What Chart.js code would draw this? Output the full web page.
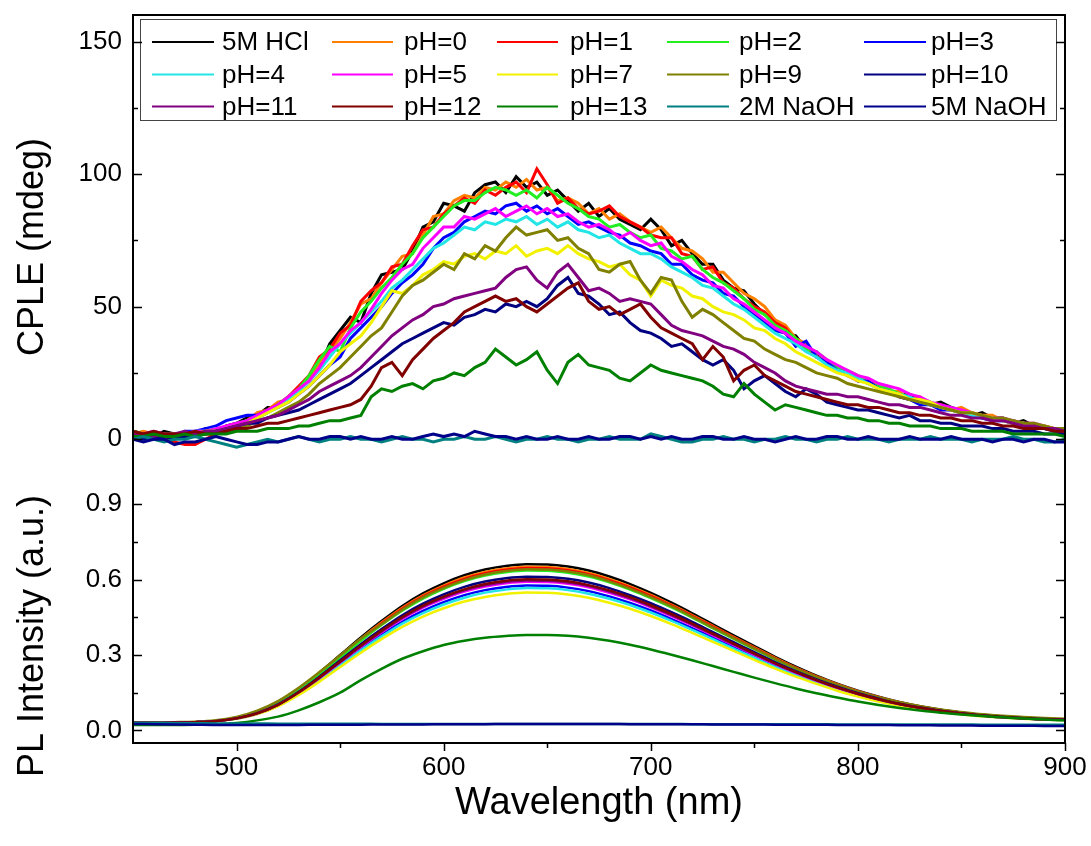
<!DOCTYPE html>
<html>
<head>
<meta charset="utf-8">
<script src="https://cdn.jsdelivr.net/npm/chart.js@4.4.1/dist/chart.umd.min.js"></script>
<style>
  html, body { margin: 0; padding: 0; background: #fff; }
  #wrap { position: relative; width: 1091px; height: 846px; }
  #cple { position: absolute; left: 0; top: 0; }
  #pl { position: absolute; left: 0; top: 479px; }
</style>
</head>
<body>
<div id="wrap">
  <canvas id="cple" width="1091" height="479"></canvas>
  <canvas id="pl" width="1091" height="367"></canvas>
</div>
<script>
// --- series names / colours ---
const seriesNames = ['5M HCl', 'pH=0', 'pH=1', 'pH=2', 'pH=3',
  'pH=4', 'pH=5', 'pH=7', 'pH=9', 'pH=10',
  'pH=11', 'pH=12', 'pH=13', '2M NaOH', '5M NaOH']
const seriesColors = ['#000000', '#ff8000', '#ff0000', '#22ee22', '#0000ff',
  '#22e5e5', '#ff00ff', '#f2f200', '#808000', '#000080',
  '#800080', '#800000', '#008000', '#008080', '#00008b']

// --- tick values ---
const wlTicks = [500, 600, 700, 800, 900]
const wlMinor = [550, 650, 750, 850]
const cpleTicks = [0, 50, 100, 150]
const cpleMinor = [25, 75, 125]
const plTicks = [0, 0.3, 0.6, 0.9]
const plMinor = [0.15, 0.45, 0.75]

// --- CPLE (mdeg), 5 nm steps ---
const cpleWavelengths = [450, 455, 460, 465, 470, 475, 480, 485, 490, 495,
  500, 505, 510, 515, 520, 525, 530, 535, 540, 545,
  550, 555, 560, 565, 570, 575, 580, 585, 590, 595,
  600, 605, 610, 615, 620, 625, 630, 635, 640, 645,
  650, 655, 660, 665, 670, 675, 680, 685, 690, 695,
  700, 705, 710, 715, 720, 725, 730, 735, 740, 745,
  750, 755, 760, 765, 770, 775, 780, 785, 790, 795,
  800, 805, 810, 815, 820, 825, 830, 835, 840, 845,
  850, 855, 860, 865, 870, 875, 880, 885, 890, 895, 900]

const cpleHCl5M = [3, 2, 1, 3, 2, 1, 2, 4, 3, 5,
  6, 8, 9, 12, 12, 16, 19, 22, 27, 36,
  41, 46, 44, 55, 62, 63, 64, 71, 80, 82,
  89, 88, 86, 93, 96, 97, 93, 99, 95, 97,
  92, 94, 90, 86, 89, 84, 87, 83, 81, 79,
  83, 79, 73, 75, 70, 66, 66, 60, 57, 56,
  51, 47, 45, 40, 39, 34, 33, 28, 27, 24,
  23, 21, 20, 18, 17, 17, 15, 13, 14, 12,
  11, 9, 10, 8, 8, 6, 7, 5, 5, 4, 3]
const cplePH0 = [2, 3, 2, 2, 1, 2, 3, 2, 4, 4,
  5, 7, 10, 11, 14, 15, 18, 23, 29, 33,
  38, 44, 51, 53, 59, 64, 69, 70, 77, 84,
  85, 90, 92, 91, 95, 94, 97, 95, 98, 94,
  95, 90, 91, 89, 85, 87, 83, 85, 82, 80,
  78, 80, 76, 72, 71, 68, 63, 63, 59, 55,
  53, 50, 45, 43, 38, 36, 31, 30, 26, 25,
  24, 21, 21, 18, 18, 15, 16, 13, 13, 11,
  12, 10, 9, 9, 7, 7, 6, 5, 5, 4, 3]
const cplePH1 = [3, 2, 1, 0, -1, -2, -2, 0, 2, 3,
  5, 6, 9, 11, 13, 16, 20, 24, 31, 34,
  40, 43, 52, 56, 59, 65, 66, 73, 79, 80,
  85, 88, 91, 89, 94, 92, 95, 97, 93, 102,
  96, 89, 91, 87, 85, 86, 88, 84, 82, 80,
  77, 76, 76, 70, 69, 64, 65, 59, 57, 53,
  50, 48, 44, 42, 37, 35, 31, 29, 27, 24,
  22, 22, 19, 18, 16, 15, 15, 13, 12, 11,
  10, 10, 8, 8, 7, 6, 5, 6, 4, 4, 3]
const cplePH2 = [3, 2, 2, 1, 2, 2, 2, 3, 4, 4,
  6, 7, 8, 10, 13, 16, 19, 24, 30, 35,
  33, 42, 48, 52, 57, 61, 66, 70, 76, 80,
  84, 88, 90, 90, 93, 95, 94, 92, 94, 91,
  95, 92, 89, 87, 84, 83, 80, 81, 78, 76,
  77, 72, 71, 68, 69, 64, 61, 59, 56, 53,
  49, 47, 43, 41, 38, 34, 33, 30, 27, 26,
  24, 21, 20, 19, 17, 16, 14, 14, 12, 12,
  10, 10, 8, 8, 7, 7, 6, 5, 4, 4, 3]
const cplePH3 = [1, 2, 1, 2, 1, 3, 3, 4, 5, 7,
  8, 9, 9, 11, 12, 14, 17, 20, 24, 28,
  31, 38, 42, 46, 50, 55, 59, 62, 66, 72,
  76, 78, 82, 84, 86, 85, 88, 89, 86, 88,
  85, 87, 84, 81, 82, 80, 78, 77, 74, 73,
  71, 70, 66, 66, 62, 60, 59, 55, 54, 50,
  47, 44, 41, 40, 35, 37, 31, 29, 26, 25,
  22, 22, 19, 18, 16, 15, 13, 13, 11, 11,
  10, 9, 8, 7, 7, 6, 5, 5, 4, 3, 3]
const cplePH4 = [0, 1, 2, 1, 2, 2, 3, 3, 4, 4,
  5, 6, 8, 10, 12, 15, 18, 22, 26, 31,
  36, 40, 44, 48, 52, 57, 60, 64, 68, 72,
  74, 77, 80, 79, 82, 81, 83, 82, 84, 81,
  83, 80, 82, 79, 78, 76, 77, 74, 72, 70,
  70, 68, 65, 63, 61, 58, 57, 54, 51, 49,
  46, 43, 40, 38, 36, 33, 31, 28, 26, 25,
  23, 21, 19, 18, 17, 16, 14, 13, 12, 11,
  10, 9, 8, 8, 7, 6, 6, 5, 4, 4, 3]
const cplePH5 = [2, 2, 3, 2, 1, 2, 3, 3, 4, 5,
  6, 7, 9, 11, 13, 16, 19, 22, 27, 33,
  36, 41, 44, 49, 55, 60, 64, 66, 72, 76,
  80, 80, 84, 83, 85, 87, 84, 86, 88, 85,
  87, 84, 85, 82, 80, 81, 79, 76, 78, 75,
  73, 74, 69, 67, 64, 62, 58, 57, 53, 51,
  48, 45, 42, 40, 37, 35, 33, 30, 28, 26,
  24, 23, 21, 20, 19, 17, 16, 14, 13, 12,
  11, 10, 9, 8, 8, 7, 6, 6, 5, 4, 3]
const cplePH7 = [2, 2, 1, 2, 2, 2, 2, 3, 3, 4,
  5, 6, 8, 10, 12, 14, 17, 20, 24, 28,
  33, 36, 39, 44, 50, 56, 55, 58, 62, 64,
  67, 66, 69, 70, 68, 71, 70, 73, 69, 71,
  72, 70, 73, 70, 68, 67, 65, 66, 62, 60,
  54, 60, 58, 57, 54, 53, 50, 48, 47, 45,
  42, 41, 38, 36, 33, 31, 29, 27, 25, 24,
  22, 21, 19, 18, 17, 15, 15, 14, 12, 11,
  10, 10, 9, 8, 7, 6, 6, 5, 5, 4, 3]
const cplePH9 = [2, 2, 2, 1, 2, 2, 2, 3, 3, 3,
  4, 5, 7, 8, 10, 12, 14, 17, 21, 24,
  27, 31, 35, 39, 42, 48, 54, 58, 60, 63,
  66, 64, 70, 68, 73, 71, 76, 80, 77, 78,
  79, 75, 76, 72, 70, 64, 63, 66, 67, 60,
  55, 61, 60, 52, 46, 49, 47, 44, 41, 38,
  37, 34, 32, 30, 29, 27, 25, 24, 23, 21,
  20, 19, 18, 17, 16, 15, 14, 13, 12, 11,
  10, 10, 9, 8, 8, 7, 6, 6, 5, 4, 4]
const cplePH10 = [1, 0, 1, 1, 0, 1, 2, 2, 3, 4,
  5, 6, 6, 8, 9, 10, 11, 13, 15, 17,
  19, 21, 24, 27, 30, 33, 36, 38, 40, 42,
  44, 43, 46, 47, 49, 48, 51, 50, 52, 50,
  53, 58, 61, 55, 54, 51, 47, 48, 44, 41,
  40, 38, 35, 36, 33, 30, 28, 30, 26, 19,
  22, 24, 21, 18, 16, 19, 17, 14, 13, 12,
  11, 11, 10, 9, 8, 9, 7, 7, 6, 6,
  5, 5, 5, 4, 4, 3, 3, 3, 2, 2, 2]
const cplePH11 = [2, 2, 1, 2, 2, 3, 2, 3, 3, 4,
  5, 6, 7, 8, 9, 11, 13, 15, 18, 20,
  22, 24, 27, 31, 35, 39, 42, 45, 47, 50,
  51, 53, 54, 55, 56, 57, 61, 64, 65, 60,
  57, 63, 66, 61, 56, 57, 55, 52, 53, 52,
  51, 47, 43, 41, 40, 39, 37, 35, 34, 32,
  29, 27, 25, 22, 20, 19, 18, 17, 17, 16,
  16, 15, 14, 13, 13, 12, 12, 11, 10, 9,
  9, 8, 8, 7, 7, 6, 5, 5, 4, 4, 3]
const cplePH12 = [3, 2, 3, 2, 2, 2, 3, 2, 2, 3,
  4, 4, 5, 6, 6, 7, 8, 9, 10, 11,
  12, 13, 15, 20, 27, 29, 24, 30, 34, 38,
  41, 44, 48, 50, 52, 54, 52, 53, 50, 48,
  51, 54, 57, 59, 52, 49, 50, 47, 49, 51,
  46, 42, 40, 38, 36, 30, 35, 31, 22, 26,
  28, 24, 22, 20, 18, 17, 16, 15, 14, 13,
  13, 12, 12, 11, 10, 10, 9, 9, 8, 8,
  7, 7, 6, 6, 5, 5, 4, 4, 4, 3, 3]
const cplePH13 = [1, 1, 2, 1, 1, 2, 1, 2, 2, 2,
  3, 3, 3, 4, 4, 4, 5, 5, 6, 7,
  7, 8, 9, 16, 19, 18, 20, 21, 19, 22,
  23, 25, 24, 27, 29, 34, 31, 28, 30, 33,
  26, 21, 29, 32, 28, 27, 26, 23, 22, 25,
  28, 26, 25, 24, 23, 22, 20, 17, 16, 21,
  17, 14, 11, 13, 12, 11, 10, 9, 9, 8,
  8, 7, 7, 6, 6, 5, 5, 5, 4, 4,
  4, 3, 3, 3, 3, 2, 2, 2, 2, 2, 1]
const cpleNaOH2M = [0, 1, 0, -1, 0, 0, 1, 0, -1, -2,
  -3, -2, -1, 0, -1, 0, 1, 0, -1, 0,
  0, 1, 0, 0, -1, 0, 1, 0, 0, -1,
  0, 0, 1, 0, 0, 1, 0, -1, 0, 0,
  1, 0, 0, -1, 0, 0, 1, 0, 0, 0,
  2, 1, 0, -1, -1, 0, 0, 1, 0, 0,
  -1, 0, 0, 1, 0, 0, -1, 0, 0, 1,
  0, 0, 0, -1, 0, 0, 0, 1, 0, 0,
  0, -1, 0, 0, 0, 1, 0, 0, -1, -1, 0]
const cpleNaOH5M = [0, -1, 0, 0, -2, -1, -1, 0, 1, 0,
  -1, -2, -2, -1, -1, 0, 1, 0, 0, 1,
  1, 0, 1, 0, 0, 1, 0, 0, 1, 2,
  1, 2, 1, 3, 2, 1, 1, 0, 1, 0,
  0, 1, 0, 0, 1, 0, 0, 1, 1, 0,
  1, 0, 1, 0, 0, 1, 1, 0, 0, 1,
  0, 0, -1, 0, 1, 0, 0, 1, 1, 0,
  0, 1, 0, 0, 0, 1, 0, 0, 0, 1,
  0, 0, 0, -1, 0, 0, -1, 0, 0, -1, -1]

// --- PL intensity (a.u.), 10 nm steps ---
const plWavelengths = [450, 460, 470, 480, 490, 500, 510, 520, 530, 540,
  550, 560, 570, 580, 590, 600, 610, 620, 630, 640,
  650, 660, 670, 680, 690, 700, 710, 720, 730, 740,
  750, 760, 770, 780, 790, 800, 810, 820, 830, 840,
  850, 860, 870, 880, 890, 900]

const plHCl5M = [.030, .030, .031, .033, .038, .050, .072, .110, .165, .230,
  .300, .370, .435, .495, .545, .585, .617, .640, .654, .661,
  .660, .652, .636, .612, .582, .547, .508, .466, .422, .378,
  .335, .293, .254, .218, .186, .158, .134, .113, .096, .082,
  .071, .062, .055, .050, .046, .043]
const plPH0 = [.030, .030, .031, .033, .038, .050, .071, .109, .163, .227,
  .296, .365, .429, .488, .537, .576, .608, .630, .644, .651,
  .650, .642, .626, .603, .573, .539, .500, .459, .416, .372,
  .330, .289, .250, .215, .184, .156, .132, .112, .095, .081,
  .070, .061, .055, .050, .046, .043]
const plPH1 = [.030, .030, .031, .033, .038, .050, .071, .108, .162, .225,
  .294, .362, .425, .484, .533, .572, .603, .625, .639, .646,
  .645, .637, .621, .598, .569, .535, .497, .456, .413, .370,
  .328, .287, .249, .213, .182, .155, .132, .111, .094, .081,
  .070, .061, .054, .050, .046, .043]
const plPH2 = [.030, .030, .031, .033, .038, .049, .070, .107, .160, .222,
  .289, .356, .419, .476, .524, .563, .594, .616, .629, .636,
  .635, .627, .612, .589, .560, .526, .489, .449, .406, .364,
  .323, .282, .245, .210, .180, .153, .130, .110, .093, .080,
  .069, .061, .054, .049, .045, .042]
const plPH3 = [.030, .030, .031, .033, .037, .047, .066, .099, .147, .203,
  .264, .324, .380, .432, .475, .510, .538, .558, .570, .576,
  .575, .568, .554, .533, .507, .477, .443, .407, .369, .331,
  .294, .257, .224, .193, .165, .141, .120, .102, .087, .075,
  .065, .058, .052, .047, .044, .041]
const plPH4 = [.030, .030, .031, .033, .037, .047, .066, .098, .145, .200,
  .259, .319, .374, .425, .467, .501, .528, .548, .560, .566,
  .565, .558, .544, .524, .499, .469, .436, .400, .363, .325,
  .289, .253, .220, .190, .162, .139, .118, .100, .086, .074,
  .065, .057, .051, .047, .044, .041]
const plPH5 = [.030, .030, .031, .033, .037, .048, .067, .101, .150, .208,
  .270, .332, .390, .443, .488, .523, .552, .572, .585, .591,
  .590, .583, .569, .547, .521, .490, .455, .418, .378, .339,
  .301, .264, .229, .197, .169, .144, .122, .104, .089, .076,
  .066, .058, .052, .048, .044, .042]
const plPH7 = [.030, .030, .031, .032, .037, .046, .065, .096, .141, .194,
  .252, .309, .363, .412, .453, .486, .513, .531, .543, .549,
  .548, .541, .528, .508, .484, .455, .423, .388, .352, .316,
  .281, .246, .214, .185, .158, .135, .115, .098, .084, .073,
  .064, .056, .051, .046, .043, .041]
const plPH9 = [.032, .032, .033, .035, .041, .054, .079, .117, .170, .232,
  .298, .365, .422, .480, .529, .567, .598, .620, .634, .641,
  .640, .632, .617, .593, .564, .530, .493, .452, .409, .367,
  .325, .285, .247, .212, .181, .154, .131, .112, .096, .083,
  .073, .064, .058, .053, .049, .046]
const plPH10 = [.030, .030, .031, .033, .037, .048, .069, .104, .154, .214,
  .279, .343, .403, .458, .504, .541, .571, .592, .605, .611,
  .610, .603, .588, .566, .538, .506, .470, .432, .391, .351,
  .311, .272, .236, .203, .174, .148, .126, .106, .091, .078,
  .068, .059, .053, .048, .045, .042]
const plPH11 = [.030, .030, .031, .033, .037, .048, .068, .102, .151, .209,
  .272, .335, .393, .447, .492, .528, .557, .577, .590, .596,
  .595, .588, .574, .552, .525, .494, .459, .421, .382, .342,
  .304, .266, .231, .199, .170, .145, .123, .104, .089, .077,
  .067, .059, .052, .048, .044, .042]
const plPH12 = [.030, .030, .031, .033, .037, .048, .068, .102, .152, .211,
  .274, .338, .397, .451, .496, .532, .561, .582, .595, .601,
  .600, .593, .578, .557, .530, .498, .463, .425, .385, .345,
  .306, .268, .233, .200, .171, .146, .124, .105, .090, .077,
  .067, .059, .053, .048, .044, .042]
const plPH13 = [.022, .022, .022, .023, .025, .030, .040, .055, .080, .112,
  .150, .200, .245, .285, .315, .340, .357, .369, .376, .380,
  .380, .377, .369, .357, .341, .322, .301, .279, .256, .233,
  .210, .188, .167, .148, .131, .115, .101, .089, .079, .070,
  .063, .057, .052, .047, .043, .040]
const plNaOH2M = [.030, .030, .029, .029, .028, .028, .028, .027, .027, .027,
  .027, .027, .026, .026, .026, .026, .026, .026, .026, .026,
  .026, .026, .026, .026, .026, .026, .026, .025, .025, .025,
  .025, .025, .025, .025, .024, .024, .024, .024, .024, .024,
  .024, .023, .023, .023, .023, .023]
const plNaOH5M = [.026, .025, .024, .023, .022, .022, .022, .022, .022, .023,
  .023, .023, .024, .024, .024, .025, .025, .025, .026, .026,
  .026, .026, .026, .026, .025, .025, .025, .025, .024, .024,
  .024, .023, .023, .023, .022, .022, .022, .021, .021, .020,
  .020, .019, .019, .019, .018, .018]

const cpleSeries = [cpleHCl5M, cplePH0, cplePH1, cplePH2, cplePH3,
  cplePH4, cplePH5, cplePH7, cplePH9, cplePH10,
  cplePH11, cplePH12, cplePH13, cpleNaOH2M, cpleNaOH5M]
const plSeries = [plHCl5M, plPH0, plPH1, plPH2, plPH3,
  plPH4, plPH5, plPH7, plPH9, plPH10,
  plPH11, plPH12, plPH13, plNaOH2M, plNaOH5M]

const FONT = '"Liberation Sans", Arial, Helvetica, sans-serif'

function makeDatasets(xs, series, tension, width) {
  return series.map((vals, i) => ({
    label: seriesNames[i],
    data: xs.map((x, k) => ({ x: x, y: vals[k] })),
    borderColor: seriesColors[i],
    backgroundColor: seriesColors[i],
    borderWidth: width,
    pointRadius: 0,
    tension: tension,
    cubicInterpolationMode: tension ? 'monotone' : 'default',
    fill: false,
    // later series are painted on top, like the original plot
    order: series.length - i
  }))
}

// keep the plot box exactly where we want it: drop the label overhang padding
function fixYAxis(s) {
  s.width = 133
  s.paddingTop = 0
  s.paddingBottom = 0
}

// frame + inward ticks (Origin style), drawn from the chart's own scales
const frameTicks = {
  id: 'frameTicks',
  afterDraw(chart, args, opts) {
    const { ctx, chartArea: a, scales } = chart
    const y = scales.y
    const x = scales.x
    ctx.save()
    ctx.strokeStyle = '#000'
    ctx.lineWidth = 2
    ctx.beginPath()
    ctx.moveTo(a.left, a.top - (opts.top ? 1 : 0))
    ctx.lineTo(a.left, a.bottom + (opts.bottom ? 1 : 0))
    ctx.moveTo(a.right, a.top - (opts.top ? 1 : 0))
    ctx.lineTo(a.right, a.bottom + (opts.bottom ? 1 : 0))
    if (opts.top) {
      ctx.moveTo(a.left, a.top)
      ctx.lineTo(a.right, a.top)
    }
    if (opts.bottom) {
      ctx.moveTo(a.left, a.bottom)
      ctx.lineTo(a.right, a.bottom)
    }
    ctx.stroke()

    ctx.lineWidth = 1.5
    ctx.beginPath()
    const yMark = (vals, len) => {
      vals.forEach((v) => {
        const p = Math.round(y.getPixelForValue(v)) + 0.5
        ctx.moveTo(a.left, p)
        ctx.lineTo(a.left + len, p)
        ctx.moveTo(a.right, p)
        ctx.lineTo(a.right - len, p)
      })
    }
    yMark(opts.major, 9)
    yMark(opts.minor, 5)
    if (opts.bottom) {
      wlTicks.forEach((v) => {
        const p = Math.round(x.getPixelForValue(v)) + 0.5
        ctx.moveTo(p, a.bottom)
        ctx.lineTo(p, a.bottom + 8)
      })
      wlMinor.forEach((v) => {
        const p = Math.round(x.getPixelForValue(v)) + 0.5
        ctx.moveTo(p, a.bottom)
        ctx.lineTo(p, a.bottom + 5)
      })
    }
    ctx.stroke()
    ctx.restore()
  }
}

// rotated axis title that may run past the panel (the PL one hangs below it)
const sideTitle = {
  id: 'sideTitle',
  afterDraw(chart, args, opts) {
    if (!opts.text) return
    const { ctx, chartArea: a } = chart
    ctx.save()
    ctx.translate(opts.x, (a.top + a.bottom) / 2 + opts.shift)
    ctx.rotate(-Math.PI / 2)
    ctx.font = opts.size + 'px ' + FONT
    ctx.fillStyle = '#000'
    ctx.textAlign = 'center'
    ctx.textBaseline = 'middle'
    ctx.fillText(opts.text, 0, 0)
    ctx.restore()
  }
}

// Origin-like boxed legend, 5 columns x 3 rows
const boxLegend = {
  id: 'boxLegend',
  afterDatasetsDraw(chart) {
    const { ctx } = chart
    const lineStart = [152, 332, 497, 667, 864]
    const lineEnd = [214, 393, 558, 729, 926]
    const textX = [222, 404, 570, 739, 931]
    const rowY = [42, 74.5, 106.5]
    ctx.save()
    ctx.fillStyle = '#fff'
    ctx.fillRect(140, 19, 916, 101)
    ctx.strokeStyle = '#444'
    ctx.lineWidth = 1
    ctx.strokeRect(140.5, 19.5, 916, 101)
    ctx.font = '26px ' + FONT
    ctx.textBaseline = 'middle'
    ctx.textAlign = 'left'
    chart.data.datasets.forEach((ds, i) => {
      const r = Math.floor(i / 5)
      const c = i % 5
      ctx.strokeStyle = ds.borderColor
      ctx.lineWidth = 2
      ctx.beginPath()
      ctx.moveTo(lineStart[c], rowY[r])
      ctx.lineTo(lineEnd[c], rowY[r])
      ctx.stroke()
      ctx.fillStyle = '#000'
      ctx.fillText(ds.label, textX[c], rowY[r] + 1)
    })
    ctx.restore()
  }
}

const tickFont = { family: FONT, size: 26 }

new Chart(document.getElementById('cple'), {
  type: 'line',
  data: { datasets: makeDatasets(cpleWavelengths, cpleSeries, 0, 3) },
  options: {
    responsive: false,
    animation: false,
    layout: { padding: { top: 15, right: 26, left: 0, bottom: 0 } },
    plugins: {
      legend: { display: false },
      tooltip: { enabled: false },
      frameTicks: { top: true, bottom: false, major: cpleTicks, minor: cpleMinor },
      sideTitle: { text: 'CPLE (mdeg)', x: 33, shift: 0, size: 36 }
    },
    scales: {
      x: { type: 'linear', min: 450, max: 900, display: false },
      y: {
        type: 'linear',
        min: -15,
        max: 160,
        afterFit: fixYAxis,
        afterBuildTicks: (s) => { s.ticks = cpleTicks.map((v) => ({ value: v })) },
        grid: { display: false, drawTicks: false },
        border: { display: false },
        ticks: {
          color: '#000',
          font: tickFont,
          padding: 11,
          autoSkip: false,
          callback: (v) => String(v)
        }
      }
    }
  },
  plugins: [frameTicks, sideTitle, boxLegend]
})

new Chart(document.getElementById('pl'), {
  type: 'line',
  data: { datasets: makeDatasets(plWavelengths, plSeries, 0.4, 2.5) },
  options: {
    responsive: false,
    animation: false,
    layout: { padding: { top: 0, right: 26, left: 0, bottom: 0 } },
    plugins: {
      legend: { display: false },
      tooltip: { enabled: false },
      frameTicks: { top: false, bottom: true, major: plTicks, minor: plMinor },
      sideTitle: { text: 'PL Intensity (a.u.)', x: 33, shift: 25, size: 36 }
    },
    scales: {
      x: {
        type: 'linear',
        min: 450,
        max: 900,
        afterFit: (s) => {
          s.height = 103
          s.paddingLeft = 0
          s.paddingRight = 0
        },
        afterBuildTicks: (s) => { s.ticks = wlTicks.map((v) => ({ value: v })) },
        grid: { display: false, drawTicks: false },
        border: { display: false },
        ticks: {
          color: '#000',
          font: tickFont,
          padding: 9,
          autoSkip: false,
          maxRotation: 0,
          callback: (v) => String(v)
        },
        title: {
          display: true,
          text: 'Wavelength (nm)',
          color: '#000',
          font: { family: FONT, size: 38 },
          padding: { top: 0, bottom: 20 }
        }
      },
      y: {
        type: 'linear',
        min: -0.05,
        max: 1.0,
        afterFit: fixYAxis,
        afterBuildTicks: (s) => { s.ticks = plTicks.map((v) => ({ value: v })) },
        grid: { display: false, drawTicks: false },
        border: { display: false },
        ticks: {
          color: '#000',
          font: tickFont,
          padding: 11,
          autoSkip: false,
          callback: (v) => v.toFixed(1)
        }
      }
    }
  },
  plugins: [frameTicks, sideTitle]
})
</script>
</body>
</html>
